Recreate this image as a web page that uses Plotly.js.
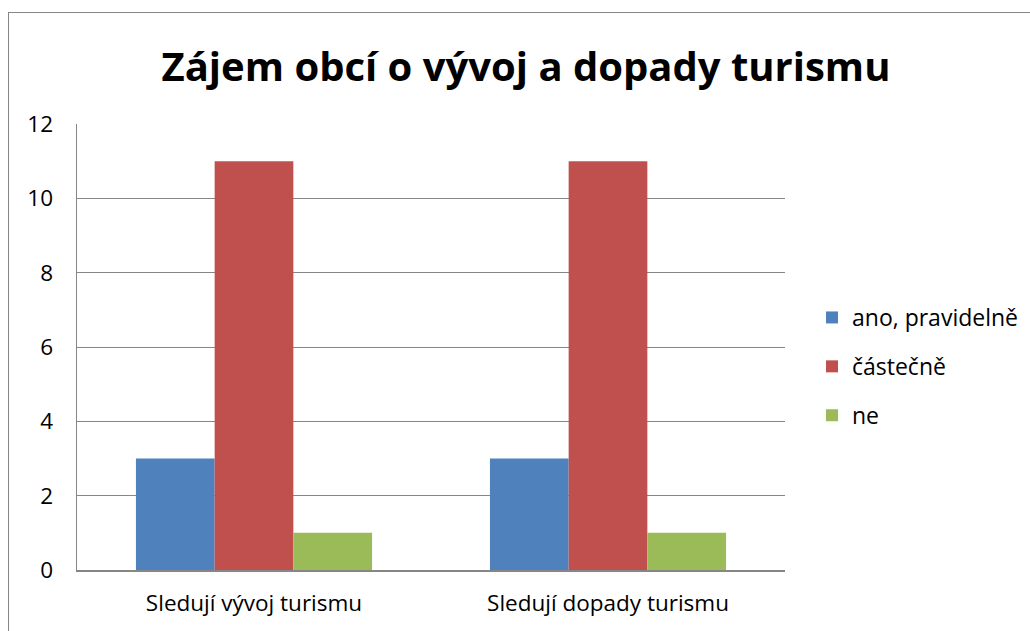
<!DOCTYPE html>
<html>
<head>
<meta charset="utf-8">
<script src="https://cdn.plot.ly/plotly-3.0.1.min.js"></script>
<style>
html,body{margin:0;padding:0;overflow:hidden;background:#fff;}
#wrap{position:relative;width:1030px;height:631px;}
#chart{position:absolute;left:0;top:0;width:1030px;height:631px;}
#frame{position:absolute;left:8px;top:12px;width:1100px;height:700px;border-left:1px solid #868686;border-top:1px solid #868686;pointer-events:none;}
</style>
</head>
<body>
<div id="wrap"><div id="chart"></div><div id="frame"></div></div>
<script>
const titleText = "Zájem obcí o vývoj a dopady turismu";
const categories = ["Sledují vývoj turismu", "Sledují dopady turismu"];
const seriesNames = ["ano, pravidelně", "částečně", "ne"];
const anoValues = [3, 3];
const castecneValues = [11, 11];
const neValues = [1, 1];
const yTicks = [0, 2, 4, 6, 8, 10, 12];
const colors = ["#4F81BD", "#C0504D", "#9BBB59"];

const seriesValues = [anoValues, castecneValues, neValues];
const FONT = "'Open Sans', Lato, sans-serif";

const traces = seriesNames.map((name, i) => ({
  type: "bar",
  name: name,
  x: categories,
  y: seriesValues[i],
  marker: {color: colors[i], line: {width: 0}},
  legendgroup: "g" + i,
  hoverinfo: "x+y+name"
}));

const layout = {
  width: 1030,
  height: 631,
  paper_bgcolor: "#ffffff",
  plot_bgcolor: "#ffffff",
  margin: {l: 77, r: 245, t: 124, b: 61, pad: 0},
  barmode: "group",
  bargap: 0.333,
  bargroupgap: 0,
  font: {family: FONT, color: "#000000", size: 22},
  title: {
    text: titleText,
    font: {family: FONT, size: 40, color: "#000000", weight: "bold"},
    x: 526/1030, xref: "container", xanchor: "center",
    y: 1 - 67/631, yref: "container", yanchor: "middle"
  },
  xaxis: {
    type: "category",
    showgrid: false,
    showline: true,
    linecolor: "#868686",
    linewidth: 1.5,
    ticks: "",
    ticklabelstandoff: 12,
    tickfont: {family: FONT, size: 22.5, color: "#000000"},
    zeroline: false
  },
  yaxis: {
    range: [0, 12],
    tickvals: yTicks,
    ticktext: yTicks.map(String),
    showgrid: true,
    gridcolor: "#868686",
    gridwidth: 1,
    showline: true,
    linecolor: "#868686",
    linewidth: 1.5,
    ticks: "",
    ticklabelstandoff: 18,
    tickfont: {family: FONT, size: 22.5, color: "#000000"},
    zeroline: false
  },
  showlegend: true,
  legend: {
    x: 812/1030, xref: "container", xanchor: "left",
    y: 1 - 296/631, yref: "container", yanchor: "top",
    traceorder: "grouped",
    tracegroupgap: 16,
    font: {family: FONT, size: 23, color: "#000000"},
    bgcolor: "rgba(0,0,0,0)",
    itemwidth: 30
  }
};

Plotly.newPlot("chart", traces, layout, {displayModeBar: false, staticPlot: true});
</script>
</body>
</html>
